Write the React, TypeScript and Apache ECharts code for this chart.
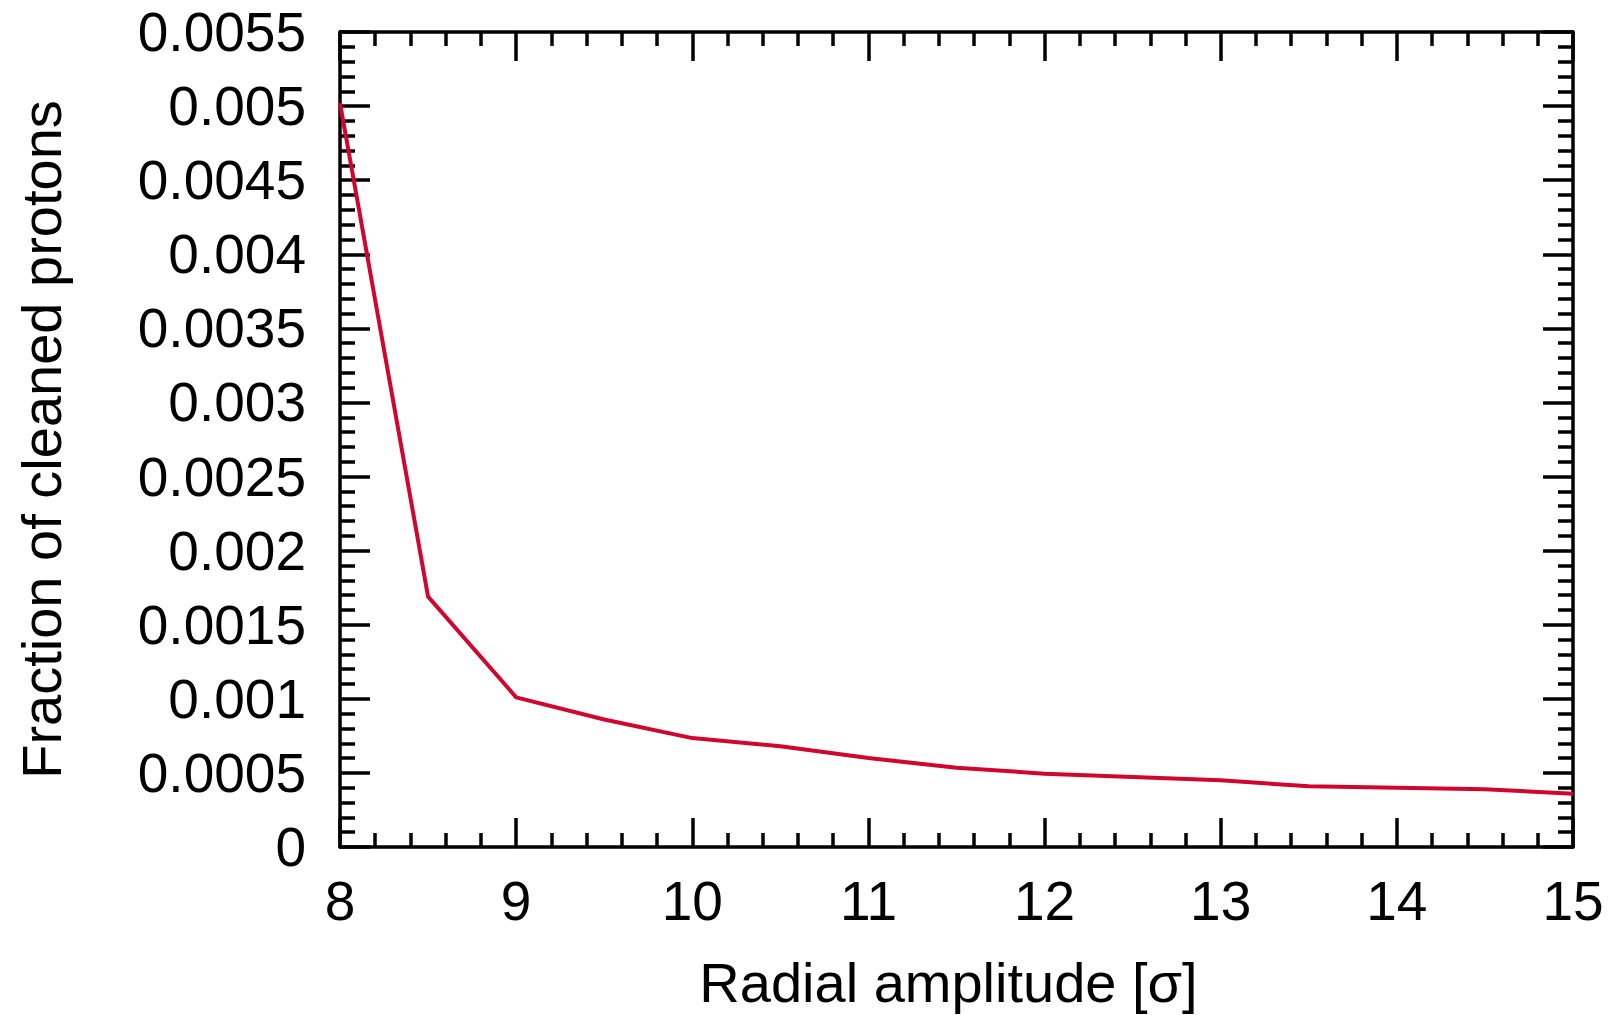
import React, { useEffect, useRef } from "react";
import * as echarts from "echarts";

const radialAmplitude = [8, 8.5, 9, 9.5, 10, 10.5, 11, 11.5, 12, 12.5, 13, 13.5, 14, 14.5, 15];
const cleanedFraction = [
  0.00502, 0.00169, 0.00101, 0.00086, 0.000735, 0.00068, 0.0006, 0.000535,
  0.000495, 0.000473, 0.00045, 0.00041, 0.0004, 0.00039, 0.00036,
];
const xTitle = "Radial amplitude [σ]";
const yTitle = "Fraction of cleaned protons";

const FONT = "'Liberation Sans', Arial, Helvetica, sans-serif";
const FS = 55;
const TFS = 56;

export default function App() {
  const ref = useRef<HTMLDivElement>(null);
  useEffect(() => {
    if (!ref.current) return;
    const chart = echarts.init(ref.current, null, { renderer: "svg" });
    const axisLine = { show: true, onZero: false, lineStyle: { color: "#000", width: 3.5 } };
    const majorTick = (len: number) => ({ show: true, inside: true, length: len, lineStyle: { color: "#000", width: 3.5 } });
    const minorTick = (len: number) => ({ show: true, splitNumber: 5, length: len, lineStyle: { color: "#000", width: 3.5 } });
    const baseX = { type: "value", min: 8, max: 15, interval: 1, splitLine: { show: false } };
    const baseY = { type: "value", min: 0, max: 0.0055, interval: 0.0005, splitLine: { show: false } };
    chart.setOption({
      animation: false,
      backgroundColor: "#fff",
      grid: { left: 340, right: 39, top: 32, bottom: 165, containLabel: false },
      xAxis: [
        {
          ...baseX,
          position: "bottom",
          axisLine,
          axisTick: majorTick(29),
          minorTick: minorTick(14),
          axisLabel: { show: true, margin: 26, color: "#000", fontSize: FS, fontFamily: FONT },
          name: xTitle,
          nameLocation: "middle",
          nameGap: 107,
          nameTextStyle: { color: "#000", fontSize: TFS, fontFamily: FONT, padding: [0, 16, 0, 0] },
        },
        {
          ...baseX,
          position: "top",
          axisLine,
          axisTick: majorTick(29),
          minorTick: minorTick(14),
          axisLabel: { show: false },
        },
      ],
      yAxis: [
        {
          ...baseY,
          position: "left",
          axisLine,
          axisTick: majorTick(30),
          minorTick: minorTick(15),
          axisLabel: {
            show: true,
            margin: 34,
            color: "#000",
            fontSize: FS,
            fontFamily: FONT,
            formatter: (v: number) => String(+v.toFixed(4)),
          },
          name: yTitle,
          nameLocation: "middle",
          nameGap: 271,
          nameTextStyle: { color: "#000", fontSize: TFS, fontFamily: FONT },
        },
        {
          ...baseY,
          position: "right",
          axisLine,
          axisTick: majorTick(30),
          minorTick: minorTick(15),
          axisLabel: { show: false },
        },
      ],
      series: [
        {
          type: "line",
          data: radialAmplitude.map((x, i) => [x, cleanedFraction[i]]),
          xAxisIndex: 0,
          yAxisIndex: 0,
          showSymbol: false,
          symbol: "none",
          lineStyle: { color: "#d0062e", width: 4 },
          clip: false,
        },
      ],
    });
    return () => chart.dispose();
  }, []);
  return (
    <div
      ref={ref}
      style={{ position: "fixed", left: 0, top: 0, width: 1612, height: 1015, background: "#fff" }}
    />
  );
}
